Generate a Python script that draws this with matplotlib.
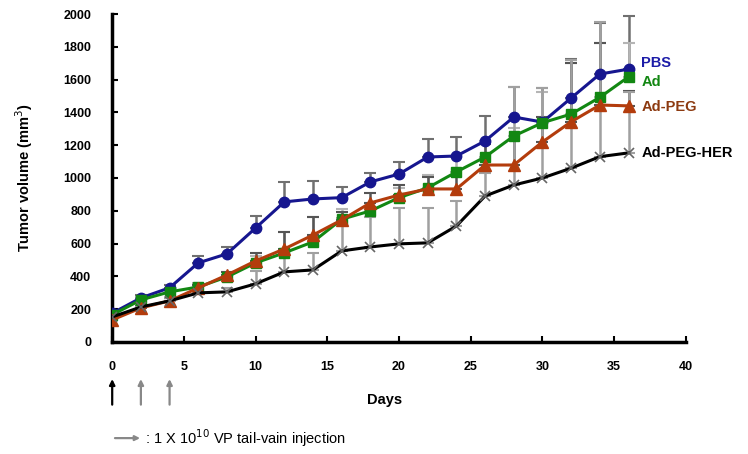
import numpy as np
import matplotlib
matplotlib.use('Agg')
import matplotlib.pyplot as plt
import matplotlib.transforms as mtransforms

plt.rcParams['font.family'] = ['Liberation Sans', 'DejaVu Sans']

# Data
days = [0, 2, 4, 6, 8, 10, 12, 14, 16, 18, 20, 22, 24, 26, 28, 30, 32, 34, 36]
pbs = [175, 268, 330, 482, 537, 695, 854, 872, 880, 976, 1024, 1128, 1134, 1226, 1372, 1341, 1488, 1634, 1664]
ad = [165, 256, 305, 335, 396, 482, 543, 610, 748, 799, 880, 940, 1037, 1128, 1256, 1337, 1390, 1492, 1617]
ad_peg = [134, 207, 250, 329, 408, 494, 567, 652, 744, 848, 896, 933, 933, 1079, 1079, 1220, 1343, 1445, 1440]
ad_peg_her = [152, 213, 250, 299, 305, 354, 427, 439, 555, 579, 598, 604, 707, 890, 957, 1000, 1060, 1130, 1153]

pbs_err = [20, 20, 15, 42, 42, 73, 122, 110, 67, 54, 74, 110, 116, 150, 183, 208, 237, 311, 324]
ad_err = [15, 20, 20, 25, 30, 40, 128, 152, 60, 50, 60, 80, 90, 100, 50, 190, 310, 330, 206]
ad_peg_err = [15, 15, 20, 20, 20, 49, 104, 110, 50, 60, 60, 70, 80, 130, 150, 150, 360, 380, 90]
ad_peg_her_err = [15, 20, 20, 30, 25, 79, 116, 104, 200, 183, 219, 213, 150, 140, 600, 550, 660, 820, 370]

series_names = ['PBS', 'Ad', 'Ad-PEG', 'Ad-PEG-HER']
label_y = [1700, 1585, 1433, 1152]
injection_days = [0, 2, 4]

series = [
    (pbs, pbs_err, '#16168f', 'o', 7.5, '#707070'),
    (ad, ad_err, '#128712', 's', 7, '#b5b5b5'),
    (ad_peg, ad_peg_err, '#b33c0c', '^', 8, '#555555'),
    (ad_peg_her, ad_peg_her_err, '#000000', 'x', 7, '#a0a0a0'),
]
text_colors = ['#1c1ca8', '#128712', '#8c3a10', '#000000']

fig = plt.figure(figsize=(7.48, 4.54), dpi=100)
ax = fig.add_axes([0.150, 0.247, 0.767, 0.722])

# error bars first (upper only), behind the lines
for vals, err, col, mk, ms, ecol in series:
    ax.errorbar(days, vals, yerr=[np.zeros(len(err)), err], fmt='none',
                ecolor=ecol, elinewidth=1.8, capsize=4, capthick=1.5, zorder=1)

for vals, err, col, mk, ms, ecol in series:
    if mk == 'x':
        ax.plot(days, vals, color=col, lw=2.2, marker=mk, ms=ms,
                mec='#666666', mew=1.2, zorder=3)
    else:
        ax.plot(days, vals, color=col, lw=2.2, marker=mk, ms=ms, zorder=3)

for name, yv, tc in zip(series_names, label_y, text_colors):
    ax.text(36.9, yv, name, color=tc, fontsize=10.5, fontweight='bold',
            va='center', ha='left')

ax.set_xlim(0, 40)
ax.set_ylim(0, 2000)
ax.set_xticks(range(0, 41, 5))
ax.set_yticks(range(0, 2001, 200))
ax.spines['top'].set_visible(False)
ax.spines['right'].set_visible(False)
ax.spines['left'].set_linewidth(2.5)
ax.spines['bottom'].set_linewidth(2.5)
ax.tick_params(direction='in', length=4, width=1.5, labelsize=9)
ax.tick_params(axis='x', pad=14)
ax.tick_params(axis='y', pad=15)
for lab in ax.get_xticklabels() + ax.get_yticklabels():
    lab.set_fontweight('bold')

ax.set_ylabel('Tumor volume (mm$^3$)', fontsize=10.5, fontweight='bold', labelpad=20)
ax.text(0.474, -0.177, 'Days', transform=ax.transAxes, fontsize=10.5,
        fontweight='bold', ha='center', va='center')

# injection arrows under the axis
trans = mtransforms.blended_transform_factory(ax.transData, ax.transAxes)
arrow_cols = ['#000000', '#888888', '#888888']
for d, c in zip(injection_days, arrow_cols):
    ax.annotate('', xy=(d, -0.105), xytext=(d, -0.2), xycoords=trans,
                textcoords=trans, annotation_clip=False,
                arrowprops=dict(arrowstyle='-|>', color=c, lw=1.6,
                                mutation_scale=8))

fig.patches.append(matplotlib.patches.FancyArrowPatch(
    (0.150, 0.035), (0.191, 0.035), transform=fig.transFigure,
    arrowstyle='-|>', mutation_scale=7, color='#888888', lw=1.6))
fig.text(0.194, 0.035, ': 1 X 10$^{10}$ VP tail-vain injection', fontsize=10.5,
         va='center', ha='left')

fig.savefig('out.png', dpi=100)
